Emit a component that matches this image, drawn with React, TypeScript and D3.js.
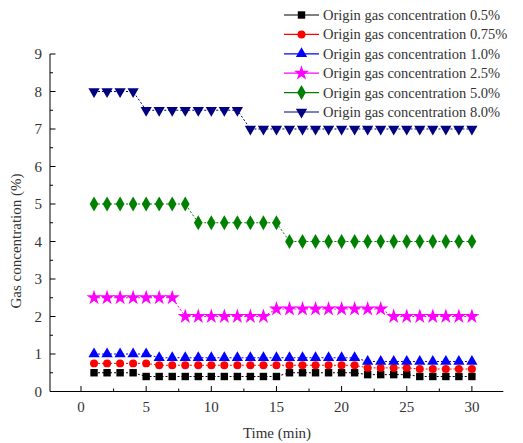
import React from "react";
import * as d3 from "d3";

const times = d3.range(1, 31);
const seriesNames = [
  "Origin gas concentration 0.5%",
  "Origin gas concentration 0.75%",
  "Origin gas concentration 1.0%",
  "Origin gas concentration 2.5%",
  "Origin gas concentration 5.0%",
  "Origin gas concentration 8.0%",
];
const s05 = [0.5,0.5,0.5,0.5,0.4,0.4,0.4,0.4,0.4,0.4,0.4,0.4,0.4,0.4,0.4,0.5,0.5,0.5,0.5,0.5,0.5,0.45,0.45,0.45,0.45,0.4,0.4,0.4,0.4,0.4];
const s075 = [0.75,0.75,0.75,0.75,0.75,0.7,0.7,0.7,0.7,0.7,0.7,0.7,0.7,0.7,0.7,0.7,0.7,0.7,0.7,0.7,0.7,0.63,0.63,0.63,0.63,0.6,0.6,0.6,0.6,0.6];
const s10 = [1,1,1,1,1,0.9,0.9,0.9,0.9,0.9,0.9,0.9,0.9,0.9,0.9,0.9,0.9,0.9,0.9,0.9,0.9,0.8,0.8,0.8,0.8,0.8,0.8,0.8,0.8,0.8];
const s25 = [2.5,2.5,2.5,2.5,2.5,2.5,2.5,2,2,2,2,2,2,2,2.2,2.2,2.2,2.2,2.2,2.2,2.2,2.2,2.2,2,2,2,2,2,2,2];
const s50 = [5,5,5,5,5,5,5,5,4.5,4.5,4.5,4.5,4.5,4.5,4.5,4,4,4,4,4,4,4,4,4,4,4,4,4,4,4];
const s80 = [8,8,8,8,7.5,7.5,7.5,7.5,7.5,7.5,7.5,7.5,7,7,7,7,7,7,7,7,7,7,7,7,7,7,7,7,7,7];
const allSeries = [s05, s075, s10, s25, s50, s80];
const colors = ["#000000", "#ff0000", "#0000ff", "#ff00ff", "#008000", "#000080"];
const xTicks = [0, 5, 10, 15, 20, 25, 30];
const yTicks = [0, 1, 2, 3, 4, 5, 6, 7, 8, 9];

const symbolTypes = [d3.symbolSquare, d3.symbolCircle, d3.symbolTriangle, d3.symbolStar, d3.symbolDiamond, d3.symbolTriangle];
const symbolSizes = [55, 50, 55, 70, 65, 55];

export default function App() {
  const W = 523, H = 443;
  const x = d3.scaleLinear().domain([-2.38, 32.41]).range([50, 503.3]);
  const y = d3.scaleLinear().domain([0, 9]).range([391.5, 54]);
  const line = d3.line<number>().x((_, i) => x(times[i])).y((d) => y(d));
  const font = "'Liberation Serif', 'Times New Roman', serif";
  const xMinor = d3.range(-2.5, 33, 2.5).filter((v) => v % 5 !== 0 && v >= -2.38 && v <= 32.41);
  const yMinor = d3.range(0.5, 9, 1);
  const sym = (i: number) => d3.symbol().type(symbolTypes[i]).size(symbolSizes[i])() as string;
  const legendY = (i: number) => 15 + 19.4 * i;

  return (
    <svg width={W} height={H} style={{ position: "absolute", left: 0, top: 0, background: "#fff" }} fontFamily={font}>
      {allSeries.map((s, si) => (
        <g key={si}>
          <path d={line(s) as string} fill="none" stroke={colors[si]} strokeWidth={1} strokeDasharray="2,2" />
          {s.map((v, i) => (
            <path key={i} d={sym(si)} fill={colors[si]}
              transform={`translate(${x(times[i])},${y(v)})${si === 5 ? " rotate(180)" : ""}`} />
          ))}
        </g>
      ))}
      <line x1={50} x2={503.3} y1={391.5} y2={391.5} stroke="#000" />
      <line x1={50} x2={50} y1={54} y2={391.5} stroke="#000" />
      {xTicks.map((t) => (
        <g key={t}>
          <line x1={x(t)} x2={x(t)} y1={391.5} y2={386} stroke="#000" />
          <text x={x(t)} y={412} textAnchor="middle" fontSize={15} fill="#333">{t}</text>
        </g>
      ))}
      {xMinor.map((t) => (
        <line key={t} x1={x(t)} x2={x(t)} y1={391.5} y2={388.5} stroke="#000" />
      ))}
      {yTicks.map((t) => (
        <g key={t}>
          <line x1={50} x2={55.5} y1={y(t)} y2={y(t)} stroke="#000" />
          <text x={42} y={y(t) + 5} textAnchor="end" fontSize={15} fill="#333">{t}</text>
        </g>
      ))}
      {yMinor.map((t) => (
        <line key={t} x1={50} x2={53} y1={y(t)} y2={y(t)} stroke="#000" />
      ))}
      <text x={277} y={438} textAnchor="middle" fontSize={15} fill="#333">Time (min)</text>
      <text transform="translate(21,241) rotate(-90)" textAnchor="middle" fontSize={15} fill="#333">Gas concentration (%)</text>
      {seriesNames.map((n, i) => (
        <g key={n}>
          <line x1={284} x2={319} y1={legendY(i)} y2={legendY(i)} stroke={colors[i]} strokeWidth={1.2} />
          <path d={sym(i)} fill={colors[i]} transform={`translate(301.5,${legendY(i)})${i === 5 ? " rotate(180)" : ""}`} />
          <text x={323} y={legendY(i) + 5} fontSize={14.5} fill="#333">{n}</text>
        </g>
      ))}
    </svg>
  );
}
